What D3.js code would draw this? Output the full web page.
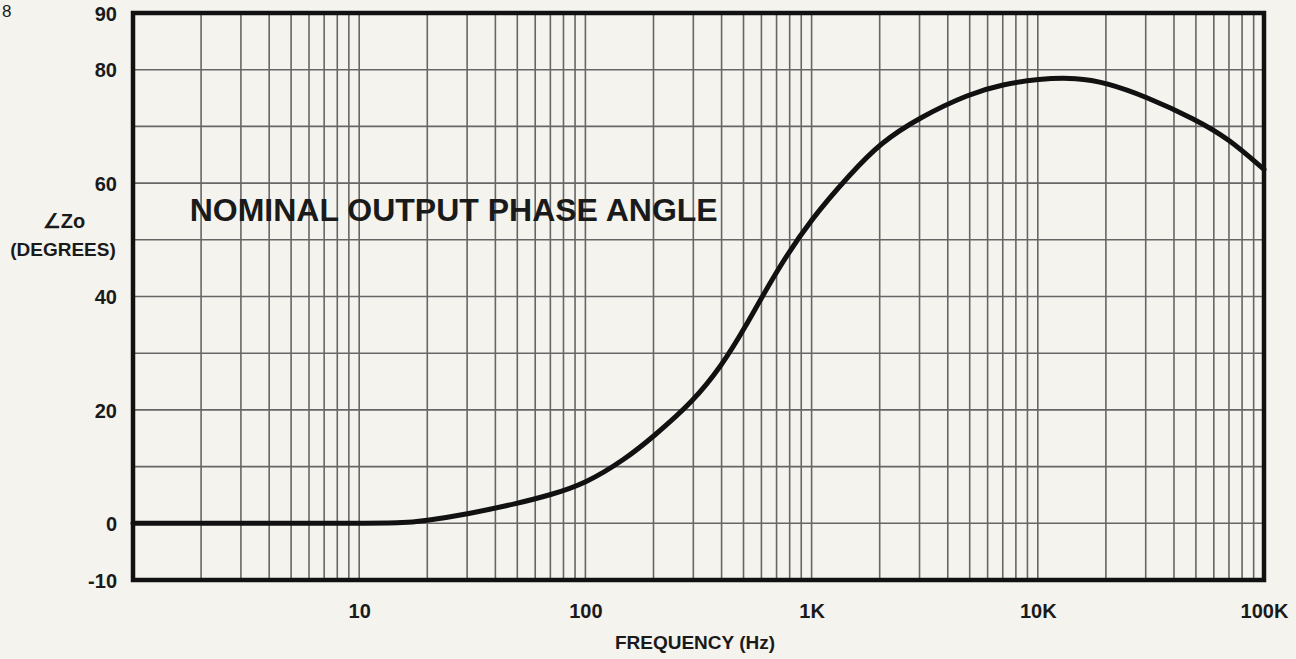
<!DOCTYPE html>
<html>
<head>
<meta charset="utf-8">
<script src="https://cdn.jsdelivr.net/npm/d3@7"></script>
<style>
  body { margin: 0; background: #f4f3ee; }
  svg { display: block; }
  text { font-family: "Liberation Sans", Arial, sans-serif; font-weight: bold; fill: #1a1a1a; }
</style>
</head>
<body>
<svg id="chart"></svg>
<script>
// Frequenz (Hz) und Phasenwinkel (Grad)
const freq  = [1, 10, 15, 20, 30, 50, 70, 100, 150, 200, 300, 400, 500, 700, 1000, 1500, 2000, 3000, 5000, 7000, 10000, 15000, 20000, 30000, 50000, 70000, 100000];
const phase = [0, 0, 0, 0.5, 1.6, 3.5, 5.0, 7, 11.3, 15.3, 21.5, 27.8, 34, 44.6, 53.8, 61.8, 67, 71.6, 75.8, 77.4, 78.4, 78.6, 77.7, 75.3, 71.2, 67.8, 62.4];

const xTicks = [10, 100, 1000, 10000, 100000];
const xTickLabels = ["10", "100", "1K", "10K", "100K"];
const yTicks = [90, 80, 60, 40, 20, 0, -10];
const yGrid = [90, 80, 70, 60, 50, 40, 30, 20, 10, 0, -10];

const width = 1296, height = 659;
const margin = { left: 133, top: 13, right: 32, bottom: 79 };
const w = width - margin.left - margin.right;
const h = height - margin.top - margin.bottom;

const svg = d3.select("#chart")
    .attr("width", width)
    .attr("height", height);

const g = svg.append("g")
    .attr("transform", `translate(${margin.left}, ${margin.top})`);

// Skalen
const xScale = d3.scaleLog().domain([1, 100000]).range([0, w]);
const yScale = d3.scaleLinear().domain([-10, 90]).range([h, 0]);

// Gitter senkrecht: 1..9 pro Dekade
const xGrid = [];
for (let dec = 1; dec < 100000; dec *= 10) {
    for (let k = 1; k < 10; k++) xGrid.push(dec * k);
}
g.append("g")
    .selectAll("line")
    .data(xGrid.filter(v => v > 1))
    .join("line")
        .attr("x1", d => xScale(d)).attr("x2", d => xScale(d))
        .attr("y1", 0).attr("y2", h)
        .attr("stroke", "#666")
        .attr("stroke-width", 1.6);

// Gitter waagrecht
g.append("g")
    .selectAll("line")
    .data(yGrid)
    .join("line")
        .attr("x1", 0).attr("x2", w)
        .attr("y1", d => yScale(d)).attr("y2", d => yScale(d))
        .attr("stroke", "#666")
        .attr("stroke-width", 1.6);

// Kurve
g.append("path")
    .datum(freq.map((f, i) => ({ f: f, p: phase[i] })))
    .attr("fill", "none")
    .attr("stroke", "#111")
    .attr("stroke-width", 5)
    .attr("stroke-linecap", "round")
    .attr("d", d3.line()
        .x(d => xScale(d.f))
        .y(d => yScale(d.p))
        .curve(d3.curveBasis));

// Rahmen
g.append("rect")
    .attr("x", 0).attr("y", 0)
    .attr("width", w).attr("height", h)
    .attr("fill", "none")
    .attr("stroke", "#111")
    .attr("stroke-width", 4.5);

// Achsen (nur Beschriftung)
const yAxis = g.append("g")
    .call(d3.axisLeft(yScale).tickValues(yTicks)
        .tickFormat(d => String(d)).tickSize(0).tickPadding(16));
const xAxis = g.append("g")
    .attr("transform", `translate(0, ${h})`)
    .call(d3.axisBottom(xScale).tickValues(xTicks)
        .tickFormat((d, i) => xTickLabels[i]).tickSize(0).tickPadding(24));
[yAxis, xAxis].forEach(a => {
    a.select(".domain").remove();
    a.selectAll("text")
        .attr("fill", "#1a1a1a")
        .style("font-size", "20px")
        .style("font-family", null);
});
yAxis.selectAll("text").attr("dy", "0.36em");

// Titel im Diagramm
g.append("text")
    .attr("x", xScale(1.78))
    .attr("y", yScale(53.3))
    .style("font-size", "32px")
    .text("NOMINAL OUTPUT PHASE ANGLE");

// Achsentitel
svg.append("text")
    .attr("text-anchor", "middle")
    .attr("x", 695)
    .attr("y", 649)
    .style("font-size", "19px")
    .text("FREQUENCY (Hz)");

svg.append("text")
    .attr("text-anchor", "middle")
    .attr("x", 64)
    .attr("y", 228)
    .style("font-size", "20px")
    .text("∠Zo");

svg.append("text")
    .attr("text-anchor", "middle")
    .attr("x", 63)
    .attr("y", 256)
    .style("font-size", "19px")
    .text("(DEGREES)");

// Rest der Abbildungsnummer oben links
svg.append("text")
    .attr("x", 2)
    .attr("y", 17)
    .style("font-size", "17px")
    .style("font-weight", "normal")
    .text("8");
</script>
</body>
</html>
